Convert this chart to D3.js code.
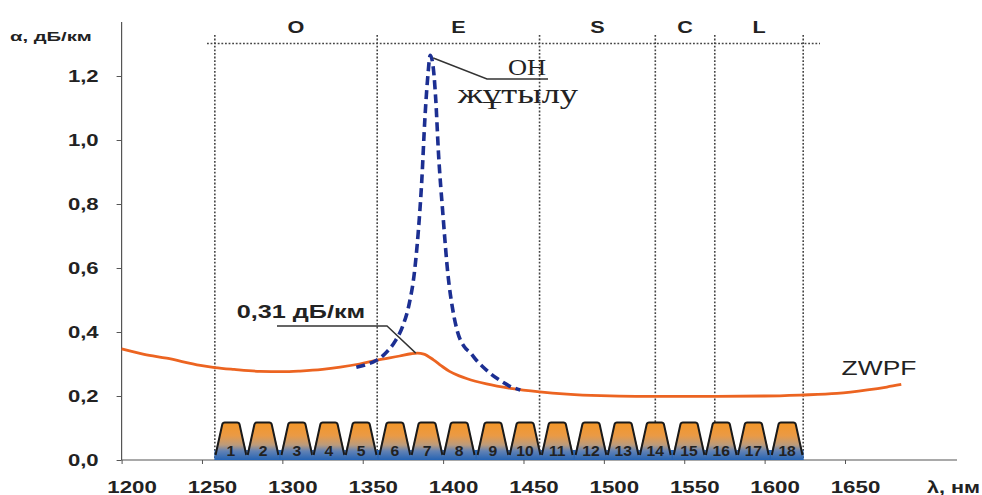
<!DOCTYPE html>
<html><head><meta charset="utf-8">
<script src="https://cdn.jsdelivr.net/npm/d3@7"></script>
<style>
body{margin:0;background:#fff;}
text{font-family:Arial,"Liberation Sans",sans-serif;fill:#222;}
</style></head>
<body><svg id="c" width="982" height="495"></svg>
<script>
// ---- data ----
const xTicks = [1200,1250,1300,1350,1400,1450,1500,1550,1600,1650];
const yTicks = [0,0.2,0.4,0.6,0.8,1.0,1.2];
const yTickLabels = ["0,0","0,2","0,4","0,6","0,8","1,0","1,2"];
const bandNames = ["O","E","S","C","L"];
const bandEdges = [1258,1359,1460,1532,1569,1624];
const channelNumbers = [1,2,3,4,5,6,7,8,9,10,11,12,13,14,15,16,17,18];
const channelCenters = [1268,1288,1309,1329,1349,1370,1390,1410,1431,1451,1471,1492,1512,1532,1553,1573,1593,1614];
const channelWidth = 20.33;
const channelHeight = 0.117;
const zwpfNm  = [1200,1214,1228,1249,1258,1270,1286,1300,1311,1325,1336,1348,1359,1373,1380,1384,1388,1394,1399,1404,1410,1415,1427,1442,1460,1477,1498,1520,1570,1600,1622,1645,1664,1676,1685];
const zwpfVal = [0.347,0.33,0.318,0.296,0.289,0.283,0.277,0.276,0.278,0.283,0.29,0.30,0.312,0.325,0.332,0.334,0.331,0.313,0.294,0.277,0.263,0.254,0.238,0.224,0.213,0.206,0.201,0.199,0.199,0.20,0.203,0.208,0.219,0.228,0.236];
const ohNm  = [1346,1352,1358,1364,1370,1375,1379,1382,1384.5,1386.7,1388.7,1390.5,1392,1394,1395.5,1397,1400,1403,1406,1409,1413,1417,1421,1425,1430,1435,1441,1448];
const ohVal = [0.29,0.298,0.31,0.333,0.37,0.42,0.49,0.58,0.71,0.87,1.07,1.2,1.265,1.22,1.12,0.97,0.76,0.58,0.47,0.40,0.355,0.335,0.31,0.29,0.268,0.25,0.232,0.219];

// ---- chart ----
const SX = 1.35;
function stretch(sel, k){ sel.each(function(){ const L=this.getComputedTextLength(); if(L>0){ this.setAttribute("textLength", L*(k||SX)); this.setAttribute("lengthAdjust","spacingAndGlyphs"); } }); return sel; }

const svg = d3.select("#c");
const x = d3.scaleLinear().domain([1200,1650]).range([121.6,845]);
const y = d3.scaleLinear().domain([0,1.2]).range([460,76]);

const defs = svg.append("defs");
const g = defs.append("linearGradient").attr("id","chg").attr("x1",0).attr("y1",0).attr("x2",0).attr("y2",1);
[[0,"#f39628"],[0.35,"#ea9a45"],[0.6,"#bb9b7c"],[0.76,"#6282b4"],[1,"#2563b4"]].forEach(s=>g.append("stop").attr("offset",s[0]).attr("stop-color",s[1]));

// band dotted lines
const gl = svg.append("g").attr("stroke","#444").attr("stroke-width",1.6).attr("stroke-dasharray","1.8,1.8");
gl.selectAll("line.v").data(bandEdges).join("line").attr("class","v")
  .attr("x1",d=>x(d)).attr("x2",d=>x(d)).attr("y1",35).attr("y2",458);
gl.append("line").attr("x1",207).attr("x2",820).attr("y1",43.5).attr("y2",43.5);
svg.selectAll("text.band").data(bandNames).join("text").attr("class","band")
  .attr("x",(d,i)=>x((bandEdges[i]+bandEdges[i+1])/2)).attr("y",33)
  .attr("text-anchor","middle").attr("font-size",16).attr("font-weight","bold").text(d=>d)
  .call(s=>stretch(s,1.35));

// axes
const xa = svg.append("g").attr("transform","translate(0,460)")
  .call(d3.axisBottom(x).tickValues(xTicks).tickSize(4).tickFormat(d3.format("d")));
xa.select(".domain").remove();
xa.selectAll(".tick line").attr("stroke","#555");
xa.selectAll(".tick text").attr("y",33).attr("dy",0).attr("dx",10)
  .attr("font-size",16.5).attr("font-weight","bold").attr("fill","#222").style("font-family","Arial,'Liberation Sans',sans-serif");
stretch(xa.selectAll(".tick text"));
svg.append("line").attr("x1",121.6).attr("x2",957).attr("y1",460).attr("y2",460).attr("stroke","#555").attr("stroke-width",1.2);

const ya = svg.append("g").attr("transform","translate(121.6,0)")
  .call(d3.axisLeft(y).tickValues(yTicks).tickSize(5).tickPadding(18).tickFormat((d,i)=>yTickLabels[i]));
ya.select(".domain").remove();
ya.selectAll(".tick line").attr("stroke","#555");
ya.selectAll(".tick text").attr("font-size",17).attr("font-weight","bold").attr("fill","#222").style("font-family","Arial,'Liberation Sans',sans-serif");
stretch(ya.selectAll(".tick text"),1.3);
svg.append("line").attr("x1",121.6).attr("x2",121.6).attr("y1",22).attr("y2",460).attr("stroke","#555").attr("stroke-width",1.2);

svg.append("text").attr("x",10).attr("y",41).attr("font-size",13.5).attr("font-weight","bold").text("α, дБ/км").call(s=>stretch(s,1.5));
svg.append("text").attr("x",980).attr("y",493).attr("text-anchor","end").attr("font-size",16).attr("font-weight","bold").text("λ, нм").call(s=>stretch(s,1.35));

// channels
const chg = svg.append("g");
chg.append("rect").attr("x",x(channelCenters[0]-channelWidth/2)).attr("width",x(channelCenters[17]+channelWidth/2)-x(channelCenters[0]-channelWidth/2))
  .attr("y",450).attr("height",10).attr("fill","#2563b4");
channelCenters.forEach((c,i)=>{
  const xl=x(c-channelWidth/2), xr=x(c+channelWidth/2), xt=y(channelHeight), yb=y(0);
  const w=xr-xl, ins=w*0.25, r=2;
  const p = `M${xl},${yb-6} L${xl+ins-0.5},${xt+r} Q${xl+ins},${xt} ${xl+ins+r},${xt} L${xr-ins-r},${xt} Q${xr-ins},${xt} ${xr-ins+0.5},${xt+r} L${xr},${yb-6} L${xr},${yb} L${xl},${yb} Z`;
  chg.append("path").attr("d",p).attr("fill","url(#chg)");
  chg.append("path").attr("d",`M${xl+1},${yb-5} L${xl+ins-0.5},${xt+r} Q${xl+ins},${xt} ${xl+ins+r},${xt} L${xr-ins-r},${xt} Q${xr-ins},${xt} ${xr-ins+0.5},${xt+r} L${xr-1},${yb-5}`)
    .attr("fill","none").attr("stroke","#1a1a1a").attr("stroke-width",2).attr("stroke-linejoin","round");
});
chg.selectAll("text").data(channelNumbers).join("text")
  .attr("x",(d,i)=>x(channelCenters[i])).attr("y",455.5).attr("text-anchor","middle")
  .attr("font-size",14.5).attr("font-weight","bold").attr("fill","#1d2b5c").text(d=>d)
  .call(s=>stretch(s,1.08));

// curves
const line = d3.line().x(d=>x(d[0])).y(d=>y(d[1])).curve(d3.curveMonotoneX);
svg.append("path").datum(zwpfNm.map((d,i)=>[d,zwpfVal[i]])).attr("d",line)
  .attr("fill","none").attr("stroke","#ec6421").attr("stroke-width",2.8);
svg.append("path").datum(ohNm.map((d,i)=>[d,ohVal[i]])).attr("d",line)
  .attr("fill","none").attr("stroke","#1c2f92").attr("stroke-width",3.6).attr("stroke-dasharray","9,5");

// annotations
const ann = svg.append("g").attr("stroke","#333").attr("stroke-width",1.4).attr("fill","none");
ann.append("path").attr("d",`M${x(1392)+3},58 L487,79 L548,79`);
ann.append("path").attr("d",`M277,326 L387,326 L${x(1383)},${y(0.334)}`);
svg.append("text").attr("x",527).attr("y",75).attr("text-anchor","middle").attr("font-size",24)
  .style("font-family","'Liberation Serif','Times New Roman',serif").text("ОН").call(s=>stretch(s,1.1));
svg.append("text").attr("x",518).attr("y",103).attr("text-anchor","middle").attr("font-size",27)
  .style("font-family","'Liberation Serif','Times New Roman',serif").text("жұтылу").call(s=>stretch(s,1.35));
svg.append("text").attr("x",301).attr("y",318).attr("text-anchor","middle").attr("font-size",18).attr("font-weight","bold")
  .text("0,31 дБ/км").call(s=>stretch(s,1.4));
svg.append("text").attr("x",879).attr("y",375).attr("text-anchor","middle").attr("font-size",20)
  .text("ZWPF").call(s=>stretch(s,1.32));
</script></body></html>
